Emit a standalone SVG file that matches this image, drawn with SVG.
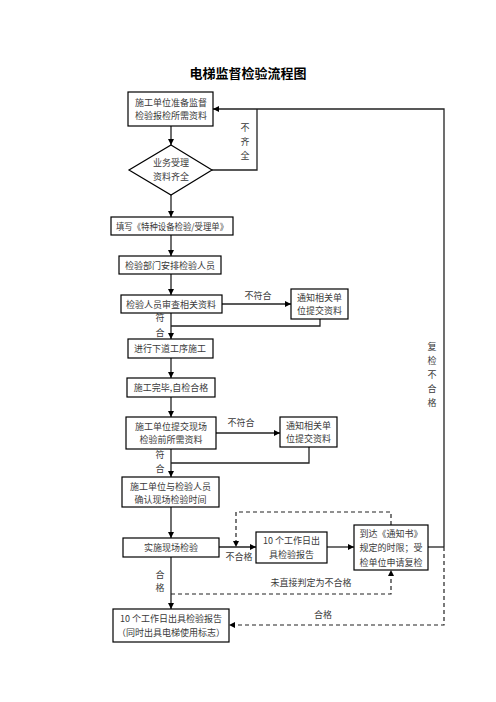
<svg xmlns="http://www.w3.org/2000/svg" width="496" height="702" viewBox="0 0 496 702">
<style>
.box{fill:#fff;stroke:#000;stroke-width:1.2}
.t{font-family:"Noto Sans CJK SC","Liberation Sans",sans-serif;font-size:9px;fill:#3a3a3a;text-anchor:middle}
.ln{fill:none;stroke:#222;stroke-width:1.3}
.dl{fill:none;stroke:#222;stroke-width:1.2;stroke-dasharray:4,3}
.title{font-family:"Noto Sans CJK SC","Liberation Sans",sans-serif;font-size:13px;font-weight:bold;fill:#000;text-anchor:middle}
</style>
<defs>
<marker id="ar" viewBox="0 0 10 10" refX="10" refY="5" markerWidth="6" markerHeight="6" orient="auto" markerUnits="userSpaceOnUse">
<path d="M0,0 L10,5 L0,10 z" fill="#000"/>
</marker>
</defs>
<rect width="496" height="702" fill="#fff"/>
<text class="title" x="248" y="78">电梯监督检验流程图</text>

<g id="connectors">
<path class="ln" d="M171,126 V145" marker-end="url(#ar)"/>
<path class="ln" d="M212,170 H257 V109"/>
<path class="ln" d="M444,547 V109 H213" marker-end="url(#ar)"/>
<path class="ln" d="M428,547 H444"/>
<path class="ln" d="M171,195 V217" marker-end="url(#ar)"/>
<path class="ln" d="M171,235 V256" marker-end="url(#ar)"/>
<path class="ln" d="M171,274 V295" marker-end="url(#ar)"/>
<path class="ln" d="M222,304 H291" marker-end="url(#ar)"/>
<path class="ln" d="M320,319 V326 H171"/>
<path class="ln" d="M171,313 V339" marker-end="url(#ar)"/>
<path class="ln" d="M171,358 V378" marker-end="url(#ar)"/>
<path class="ln" d="M171,397 V417" marker-end="url(#ar)"/>
<path class="ln" d="M216,433 H280" marker-end="url(#ar)"/>
<path class="ln" d="M309,447 V463 H171"/>
<path class="ln" d="M171,449 V477" marker-end="url(#ar)"/>
<path class="ln" d="M171,507 V538" marker-end="url(#ar)"/>
<path class="ln" d="M219,547 H256" marker-end="url(#ar)"/>
<path class="ln" d="M327,547 H354" marker-end="url(#ar)"/>
<path class="ln" d="M171,557 V609" marker-end="url(#ar)"/>
<path class="dl" d="M391,525 V512 H236 V547" marker-end="url(#ar)"/>
<path class="dl" d="M171,594 H391 V570" marker-end="url(#ar)"/>
<path class="dl" d="M444,547 V625 H229" marker-end="url(#ar)"/>
<text class="t" x="245" y="131">不</text>
<text class="t" x="245" y="145">齐</text>
<text class="t" x="245" y="159">全</text>
<text class="t" x="432" y="350">复</text>
<text class="t" x="432" y="364">检</text>
<text class="t" x="432" y="378">不</text>
<text class="t" x="432" y="392">合</text>
<text class="t" x="432" y="406">格</text>
<text class="t" x="258" y="299">不符合</text>
<text class="t" x="160" y="321">符</text>
<text class="t" x="160" y="336">合</text>
<text class="t" x="241" y="426">不符合</text>
<text class="t" x="160" y="458">符</text>
<text class="t" x="160" y="472">合</text>
<text class="t" x="239" y="560">不合格</text>
<text class="t" x="160" y="578">合</text>
<text class="t" x="160" y="591">格</text>
<text class="t" x="311" y="586">未直接判定为不合格</text>
<text class="t" x="323" y="618">合格</text>
</g>

<g id="n1"><rect class="box" x="128" y="92" width="85" height="34"/>
<text class="t" x="171" y="106">施工单位准备监督</text><text class="t" x="171" y="119">检验报检所需资料</text></g>
<g id="n2"><path class="box" d="M171,145 L212,170 L171,195 L129,170 Z"/>
<text class="t" x="171" y="166">业务受理</text><text class="t" x="171" y="180">资料齐全</text></g>
<g id="n3"><rect class="box" x="111" y="217" width="122" height="18"/>
<text class="t" x="172" y="229.5" textLength="112" lengthAdjust="spacingAndGlyphs">填写《特种设备检验/受理单》</text></g>
<g id="n4"><rect class="box" x="119" y="256" width="102" height="18"/>
<text class="t" x="170" y="268.5">检验部门安排检验人员</text></g>
<g id="n5"><rect class="box" x="121" y="295" width="101" height="18"/>
<text class="t" x="171" y="307.5">检验人员审查相关资料</text></g>
<g id="n6"><rect class="box" x="291" y="289" width="57" height="30"/>
<text class="t" x="319.5" y="301">通知相关单</text><text class="t" x="319.5" y="314">位提交资料</text></g>
<g id="n7"><rect class="box" x="128" y="339" width="85" height="19"/>
<text class="t" x="170" y="352">进行下道工序施工</text></g>
<g id="n8"><rect class="box" x="127" y="378" width="88" height="19"/>
<text class="t" x="171" y="391">施工完毕,自检合格</text></g>
<g id="n9"><rect class="box" x="126" y="417" width="90" height="32"/>
<text class="t" x="171" y="430">施工单位提交现场</text><text class="t" x="171" y="443">检验前所需资料</text></g>
<g id="n10"><rect class="box" x="280" y="417" width="57" height="30"/>
<text class="t" x="308.5" y="429">通知相关单</text><text class="t" x="308.5" y="442">位提交资料</text></g>
<g id="n11"><rect class="box" x="122" y="477" width="97" height="30"/>
<text class="t" x="170.5" y="490">施工单位与检验人员</text><text class="t" x="170.5" y="503">确认现场检验时间</text></g>
<g id="n12"><rect class="box" x="123" y="538" width="96" height="19"/>
<text class="t" x="171" y="551">实施现场检验</text></g>
<g id="n13"><rect class="box" x="256" y="532" width="71" height="31"/>
<text class="t" x="291.5" y="544">10 个工作日出</text><text class="t" x="291.5" y="558">具检验报告</text></g>
<g id="n14"><rect class="box" x="354" y="525" width="74" height="45"/>
<text class="t" x="391" y="537">到达《通知书》</text><text class="t" x="391" y="551">规定的时限；受</text><text class="t" x="391" y="566">检单位申请复检</text></g>
<g id="n15"><rect class="box" x="113" y="609" width="116" height="33"/>
<text class="t" x="171" y="622">10 个工作日出具检验报告</text><text class="t" x="171" y="636">（同时出具电梯使用标志）</text></g>
</svg>
